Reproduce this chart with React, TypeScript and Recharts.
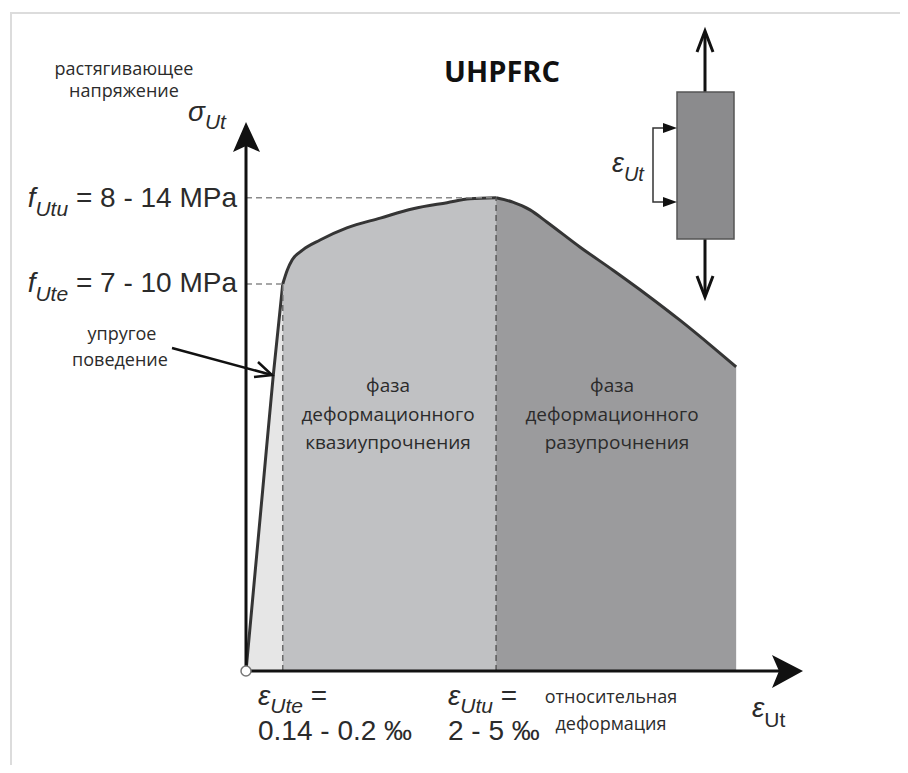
import React from 'react';
import { ComposedChart, Area, XAxis, YAxis, ReferenceLine, ReferenceDot } from 'recharts';

// schematic strain / stress points (0..100 axis units)
const strain = [0, 3.0, 4.9, 6.6, 7.4, 8.3, 10.2, 13.3, 18.1, 24.1, 30.0, 36.1, 40.2, 44.9, 47.9, 51.0, 54.0, 60.0, 65.9, 72.0, 77.9, 83.8, 88.0];
const stress = [0, 33.0, 53.9, 70.5, 73.0, 74.9, 76.7, 78.5, 80.7, 82.5, 84.2, 85.3, 86.0, 86.2, 85.4, 84.0, 81.8, 77.2, 73.0, 68.5, 63.9, 59.0, 55.4];

const epsUte = 6.6;
const epsUtu = 44.9;
const fUte = 70.5;
const fUtu = 86.2;

const data = strain.map((x, i) => ({
  x,
  elastic: x <= epsUte ? stress[i] : null,
  hardening: x >= epsUte && x <= epsUtu ? stress[i] : null,
  softening: x >= epsUtu ? stress[i] : null,
}));

const INK = '#2b2b2b';
const MATH = '"Liberation Sans", Arial, sans-serif';
const SANS = '"Open Sans", sans-serif';

const xArrow = (p: any) => (
  <path d={`M${p.cx},${p.cy} L${p.cx - 31},${p.cy - 16} L${p.cx - 24},${p.cy} L${p.cx - 31},${p.cy + 17} Z`} fill="#111" />
);
const yArrow = (p: any) => (
  <path d={`M${p.cx},${p.cy} L${p.cx - 13},${p.cy + 30} L${p.cx},${p.cy + 24} L${p.cx + 14},${p.cy + 30} Z`} fill="#111" />
);

function Overlay() {
  const txt = { fontFamily: SANS, fontSize: 18, fill: INK, textAnchor: 'middle' as const };
  const phase = { ...txt, fontSize: 19 };
  return (
    <svg width={908} height={773} style={{ position: 'absolute', left: -8, top: -8, pointerEvents: 'none' }}>
      <line x1={10} y1={13} x2={908} y2={13} stroke="#dcdcdc" strokeWidth={2} />
      <line x1={11} y1={13} x2={11} y2={773} stroke="#dcdcdc" strokeWidth={2} />

      <text x={124} y={75} {...txt}>растягивающее</text>
      <text x={124} y={97} {...txt}>напряжение</text>

      <text x={188} y={121} fontFamily={MATH} fontSize={28} fontStyle="italic" fill={INK}>
        σ<tspan fontSize={21} dy={8}>Ut</tspan>
      </text>

      <text x={237} y={207} fontFamily={MATH} fontSize={28} fill={INK} textAnchor="end">
        <tspan fontStyle="italic">f</tspan>
        <tspan fontStyle="italic" fontSize={21} dy={9}>Utu</tspan>
        <tspan dy={-9}> = 8 - 14 MPa</tspan>
      </text>
      <text x={237} y={292} fontFamily={MATH} fontSize={28} fill={INK} textAnchor="end">
        <tspan fontStyle="italic">f</tspan>
        <tspan fontStyle="italic" fontSize={21} dy={9}>Ute</tspan>
        <tspan dy={-9}> = 7 - 10 MPa</tspan>
      </text>

      <text x={122} y={340} {...txt}>упругое</text>
      <text x={120} y={366} {...txt}>поведение</text>
      <line x1={172} y1={348} x2={272} y2={375} stroke="#111" strokeWidth={2.5} />
      <polyline points="258,362 272,375 254,377" fill="none" stroke="#111" strokeWidth={2.5} />

      <text x={502} y={82} fontFamily={SANS} fontWeight={700} fontSize={29} fill="#111" textAnchor="middle">UHPFRC</text>

      <text x={388} y={392} {...phase}>фаза</text>
      <text x={388} y={421} {...phase}>деформационного</text>
      <text x={388} y={449} {...phase}>квазиупрочнения</text>
      <text x={612} y={392} {...phase}>фаза</text>
      <text x={612} y={421} {...phase}>деформационного</text>
      <text x={617} y={449} {...phase}>разупрочнения</text>

      <text x={258} y={705} fontFamily={MATH} fontSize={28} fill={INK}>
        <tspan fontStyle="italic">ε</tspan>
        <tspan fontStyle="italic" fontSize={21} dy={8}>Ute</tspan>
        <tspan dy={-8}> =</tspan>
      </text>
      <text x={258} y={740} fontFamily={MATH} fontSize={28} fill={INK}>0.14 - 0.2 ‰</text>
      <text x={448} y={705} fontFamily={MATH} fontSize={28} fill={INK}>
        <tspan fontStyle="italic">ε</tspan>
        <tspan fontStyle="italic" fontSize={21} dy={8}>Utu</tspan>
        <tspan dy={-8}> =</tspan>
      </text>
      <text x={448} y={740} fontFamily={MATH} fontSize={28} fill={INK}>2 - 5 ‰</text>

      <text x={611} y={703} {...txt}>относительная</text>
      <text x={611} y={730} {...txt}>деформация</text>

      <text x={752} y={717} fontFamily={MATH} fontSize={28} fill={INK}>
        <tspan fontStyle="italic">ε</tspan>
        <tspan fontSize={21} dy={10}>Ut</tspan>
      </text>

      {/* specimen sketch */}
      <line x1={705} y1={92} x2={705} y2={32} stroke="#111" strokeWidth={3} />
      <polyline points="697,52 705,31 713,52" fill="none" stroke="#111" strokeWidth={3} />
      <line x1={705} y1={239} x2={705} y2={296} stroke="#111" strokeWidth={3} />
      <polyline points="697,276 705,297 713,276" fill="none" stroke="#111" strokeWidth={3} />
      <rect x={677} y={92} width={57} height={147} fill="#8b8b8d" stroke="#555" strokeWidth={1.5} />
      <polyline points="672,128 653,128 653,202 672,202" fill="none" stroke="#333" strokeWidth={1.5} />
      <path d="M677,128 L663,123 L663,133 Z" fill="#111" />
      <path d="M677,202 L663,197 L663,207 Z" fill="#111" />
      <text x={612} y={172} fontFamily={MATH} fontSize={27} fontStyle="italic" fill={INK}>
        ε<tspan fontSize={20} dy={9}>Ut</tspan>
      </text>
    </svg>
  );
}

export default function App() {
  return (
    <div style={{ position: 'relative', width: 892, height: 757 }}>
      <ComposedChart width={892} height={757} data={data} margin={{ top: 114, right: 97, bottom: 94, left: 238 }}>
        <XAxis dataKey="x" type="number" domain={[0, 100]} allowDataOverflow hide />
        <YAxis type="number" domain={[0, 100]} allowDataOverflow hide />
        <Area dataKey="elastic" type="monotone" fill="#e6e6e6" fillOpacity={1} stroke="#353535" strokeWidth={3} dot={false} activeDot={false} isAnimationActive={false} />
        <Area dataKey="hardening" type="monotone" fill="#c0c1c3" fillOpacity={1} stroke="#353535" strokeWidth={3} dot={false} activeDot={false} isAnimationActive={false} />
        <Area dataKey="softening" type="monotone" fill="#9b9b9d" fillOpacity={1} stroke="#353535" strokeWidth={3} dot={false} activeDot={false} isAnimationActive={false} />
        <ReferenceLine segment={[{ x: 0, y: fUtu }, { x: epsUtu, y: fUtu }]} stroke="#8a8a8a" strokeWidth={1.5} strokeDasharray="6 4" ifOverflow="visible" />
        <ReferenceLine segment={[{ x: 0, y: fUte }, { x: epsUte, y: fUte }]} stroke="#8a8a8a" strokeWidth={1.5} strokeDasharray="6 4" ifOverflow="visible" />
        <ReferenceLine segment={[{ x: epsUte, y: 0 }, { x: epsUte, y: fUte }]} stroke="#6a6a6a" strokeWidth={1.5} strokeDasharray="6 4" ifOverflow="visible" />
        <ReferenceLine segment={[{ x: epsUtu, y: 0 }, { x: epsUtu, y: fUtu }]} stroke="#5a5a5a" strokeWidth={1.5} strokeDasharray="6 4" ifOverflow="visible" />
        <ReferenceLine segment={[{ x: 0, y: 0 }, { x: 96, y: 0 }]} stroke="#111" strokeWidth={3} ifOverflow="visible" />
        <ReferenceLine segment={[{ x: 0, y: 0 }, { x: 0, y: 96 }]} stroke="#111" strokeWidth={3} ifOverflow="visible" />
        <ReferenceDot x={100} y={0} r={1} shape={xArrow} ifOverflow="visible" />
        <ReferenceDot x={0} y={100} r={1} shape={yArrow} ifOverflow="visible" />
        <ReferenceDot x={0} y={0} r={5} fill="#fff" stroke="#777" strokeWidth={1.5} ifOverflow="visible" />
      </ComposedChart>
      <Overlay />
    </div>
  );
}
